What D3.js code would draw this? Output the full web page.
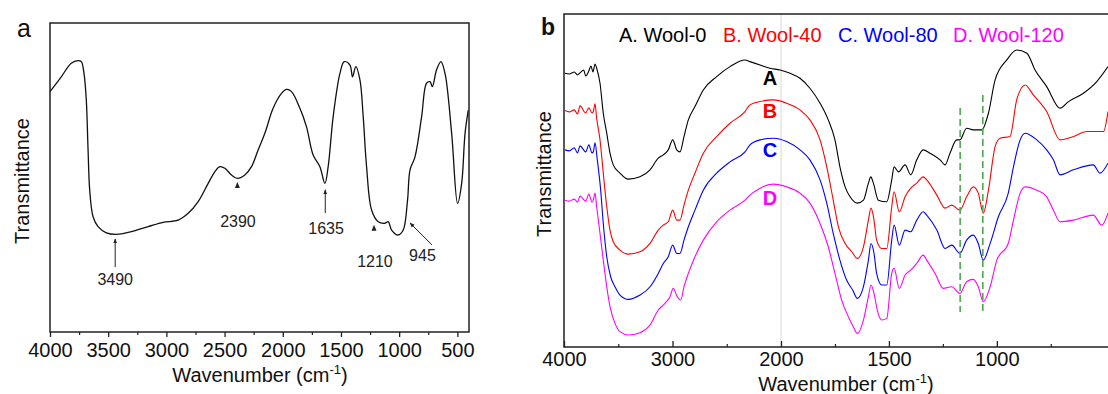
<!DOCTYPE html>
<html>
<head>
<meta charset="utf-8">
<script src="https://cdn.jsdelivr.net/npm/d3@7"></script>
<style>
  body { margin: 0; background: #fff; }
  svg text { font-family: "Liberation Sans", Arial, sans-serif; }
</style>
</head>
<body>
<div id="canvas"></div>
<script>
// ---- data: panel a (wavenumber, transmittance, arbitrary units) ----
const spectrumA = [
  [4000,77.8],[3903,82.6],[3817,87],[3759,87.8],[3731,87.5],[3708,83.7],[3688,75],[3673,59],[3659,46],
  [3630,37.3],[3587,34.1],[3516,32.1],[3430,31.6],[3301,32.5],[3157,34.1],[3028,35.5],[2899,36.2],
  [2813,38.4],[2727,42.2],[2641,48.1],[2583,51.9],[2541,53.5],[2498,53],[2441,50.8],[2390,49.7],
  [2326,50.8],[2269,53.5],[2212,58.9],[2154,64.3],[2083,72.4],[2011,77.2],[1968,78.5],[1925,77.8],
  [1853,72.4],[1796,66.4],[1739,57.3],[1681,53.5],[1638,48.1],[1610,53.5],[1567,69.7],[1509,83.7],
  [1472,87.5],[1423,86.4],[1401,82.6],[1372,85.9],[1337,81.6],[1309,69.7],[1280,53.5],[1237,39.5],
  [1180,35.7],[1122,35.2],[1094,35.7],[1065,33],[1008,31.4],[965,33],[928,42.7],[907,52.4],[864,56.7],
  [807,69.7],[765,80.5],[735,81],[715,79.4],[679,84.8],[641,87.5],[606,83.7],[549,64.3],[498,41.6],
  [463,48.1],[434,64.3],[406,71.8]
];

// peak annotations of panel a: label, arrow tail/tip (x, T), label spot
const peaksA = [
  {label: "3490", kind: "arrow", x1: 3440, t1: 21.0, x2: 3440, t2: 30.1, lx: 3440, lt: 15.2},
  {label: "2390", kind: "tri",   x1: 2390, t1: 47.6, lx: 2385, lt: 34.0},
  {label: "1635", kind: "arrow", x1: 1635, t1: 38.5, x2: 1635, t2: 46.0, lx: 1628, lt: 31.7},
  {label: "1210", kind: "tri",   x1: 1216, t1: 33.7, lx: 1208, lt: 21.0},
  {label: "945",  kind: "arrow", x1: 718,  t1: 28.2, x2: 907,  t2: 35.3, lx: 800, lt: 23.0}
];

// ---- data: panel b ----
const seriesNames = ["A. Wool-0", "B. Wool-40", "C. Wool-80", "D. Wool-120"];
const seriesTags = ["A", "B", "C", "D"];
const seriesColors = ["#000000", "#ff0000", "#0000ff", "#ff00ff"];

const wool0 = [
  [3991,82.2],[3952,82.0],[3905,82.6],[3876,81.7],[3852,82.3],[3819,83.2],[3800,81.4],[3771,82.9],
  [3752,84.4],[3733,82.6],[3714,85.0],[3699,83.7],[3668,79.2],[3638,70.2],[3606,64.2],[3576,58.2],
  [3546,54.7],[3484,52.2],[3407,50.4],[3300,51.1],[3207,53.2],[3131,56.7],[3085,57.7],[3039,59.2],
  [2998,62.2],[2961,59.2],[2931,58.6],[2894,63.2],[2854,68.2],[2793,72.2],[2716,77.2],[2593,81.2],
  [2470,84.2],[2332,86.2],[2286,85.7],[2193,84.7],[2101,83.7],[2009,83.2],[1958,82.2],[1912,80.7],
  [1866,77.7],[1819,73.2],[1781,68.2],[1750,62.2],[1727,54.1],[1703,48.1],[1680,45.1],[1646,43.2],
  [1618,44.1],[1595,49.2],[1584,51.1],[1572,49.2],[1549,44.1],[1510,43.6],[1487,50.2],[1476,54.1],
  [1456,52.6],[1425,54.7],[1399,51.7],[1371,56.2],[1341,59.2],[1310,58.2],[1263,56.2],[1240,54.7],
  [1217,58.2],[1186,62.2],[1171,62.2],[1140,65.7],[1109,65.2],[1070,65.2],[1039,70.2],[1008,80.2],
  [954,86.2],[908,89.2],[861,88.2],[823,83.2],[769,78.2],[707,71.7],[668,73.7],[599,76.2],[537,79.7],
  [485,84.2]
];
const wool40 = [
  [3991,71.0],[3952,70.6],[3905,71.2],[3876,70.0],[3852,72.4],[3800,70.3],[3771,71.8],[3742,70.3],
  [3730,70.7],[3714,73.0],[3699,68.7],[3668,62.2],[3638,52.2],[3606,42.1],[3576,35.1],[3546,31.6],
  [3484,29.1],[3407,27.9],[3300,28.6],[3207,31.1],[3131,35.1],[3085,36.6],[3039,37.6],[2998,41.1],
  [2961,38.1],[2931,38.1],[2894,42.6],[2854,47.1],[2793,52.2],[2716,58.2],[2593,63.2],[2470,67.2],
  [2332,70.7],[2286,72.7],[2193,73.7],[2071,74.2],[1974,73.2],[1912,71.2],[1866,68.2],[1819,62.2],
  [1788,54.1],[1758,44.1],[1734,36.1],[1703,31.1],[1672,28.6],[1646,26.6],[1618,30.1],[1595,38.1],
  [1583,41.7],[1569,38.1],[1557,32.1],[1533,29.6],[1510,29.6],[1487,42.1],[1476,46.6],[1452,40.6],
  [1425,45.1],[1399,47.7],[1371,49.2],[1341,51.1],[1325,50.2],[1278,45.6],[1240,41.7],[1209,42.6],
  [1171,41.1],[1140,45.1],[1109,48.1],[1086,46.2],[1063,40.2],[1039,47.1],[1008,60.2],[985,62.7],
  [939,63.2],[908,74.2],[869,78.7],[831,75.7],[769,70.7],[707,62.2],[645,63.2],[583,64.7],[506,64.7],
  [485,70.7]
];
const wool80 = [
  [3991,59.2],[3952,58.9],[3905,59.8],[3876,58.3],[3852,60.4],[3800,58.6],[3771,60.7],[3742,58.3],
  [3730,58.6],[3714,61.3],[3693,56.2],[3662,47.1],[3638,37.1],[3606,27.1],[3570,21.1],[3530,18.1],
  [3484,15.6],[3407,14.3],[3300,15.6],[3207,18.1],[3131,22.1],[3085,25.1],[3039,27.1],[2998,30.6],
  [2961,28.1],[2931,28.1],[2894,32.1],[2854,36.1],[2793,41.1],[2716,47.1],[2593,52.2],[2470,55.6],
  [2332,58.6],[2286,60.7],[2193,62.2],[2071,62.7],[1974,61.7],[1912,59.2],[1866,56.2],[1819,50.2],
  [1788,43.2],[1758,34.1],[1727,26.1],[1696,20.1],[1668,17.1],[1646,14.6],[1618,18.1],[1595,26.1],
  [1583,31.1],[1569,28.1],[1557,22.1],[1533,18.6],[1510,18.6],[1487,32.1],[1476,36.6],[1452,30.6],
  [1425,35.1],[1399,34.6],[1371,38.1],[1341,40.6],[1325,39.6],[1278,35.1],[1240,29.6],[1209,30.6],
  [1171,28.1],[1140,32.1],[1109,33.6],[1086,31.1],[1063,26.1],[1031,31.1],[993,39.1],[947,46.2],
  [923,54.1],[892,62.2],[869,64.2],[815,62.2],[769,59.2],[738,56.2],[707,51.7],[645,53.2],[553,54.7],
  [522,52.2],[485,55.2]
];
const wool120 = [
  [3991,44.1],[3952,43.8],[3905,44.4],[3876,43.5],[3852,45.3],[3800,43.8],[3771,45.9],[3742,43.5],
  [3730,44.1],[3714,46.2],[3699,42.1],[3668,34.1],[3638,26.1],[3606,18.1],[3576,12.1],[3530,7.1],
  [3484,4.6],[3407,3.6],[3300,4.3],[3207,6.6],[3131,11.1],[3069,13.1],[3023,15.1],[2993,17.6],
  [2956,15.1],[2924,14.1],[2894,18.1],[2854,22.1],[2793,27.1],[2716,32.1],[2593,37.6],[2470,41.1],
  [2332,44.1],[2286,45.6],[2193,47.7],[2071,48.9],[1974,48.1],[1912,46.2],[1866,43.2],[1819,37.1],
  [1781,30.1],[1750,22.1],[1719,14.1],[1688,9.1],[1665,6.1],[1646,4.1],[1618,8.1],[1595,15.1],
  [1583,18.6],[1569,16.1],[1554,11.1],[1533,8.1],[1510,8.6],[1487,22.1],[1476,23.6],[1452,17.6],
  [1425,21.6],[1399,23.1],[1371,25.1],[1341,27.6],[1325,26.1],[1286,22.1],[1248,17.6],[1209,18.1],
  [1171,16.1],[1140,19.6],[1109,20.3],[1086,18.1],[1063,13.6],[1031,18.1],[1000,26.1],[947,31.1],
  [923,38.1],[892,46.2],[869,48.1],[815,47.1],[769,45.1],[738,41.1],[707,37.6],[645,38.1],[553,39.6],
  [514,36.6],[485,40.2]
];
const seriesB = [wool0, wool40, wool80, wool120];
const tagT = [78.7, 68.8, 57.1, 42.6];       // baseline level of the A-D tags
const markerLines = [[1170, 71.8, 10.5], [1065, 75.7, 9.6]];  // dashed guides

const ticksA = [4000, 3500, 3000, 2500, 2000, 1500, 1000, 500];
const minorA = [3750, 3250, 2750, 2250, 1750, 1250, 750];
const ticksB = [4000, 3000, 2000, 1500, 1000];
const minorB = [3500, 2500, 1750, 1250, 750];

const svg = d3.select("#canvas").append("svg")
    .attr("width", 1108)
    .attr("height", 394);

svg.append("defs").append("marker")
    .attr("id", "arr")
    .attr("viewBox", "0 0 10 10")
    .attr("refX", 9).attr("refY", 5)
    .attr("markerWidth", 5).attr("markerHeight", 5)
    .attr("orient", "auto")
    .append("path").attr("d", "M0,1 L10,5 L0,9 z").attr("fill", "#222");

// ================= panel a =================
const xA = d3.scaleLinear().domain([4000, 400]).range([50, 469]);
const yA = d3.scaleLinear().domain([0, 100]).range([332, 23]);

const gA = svg.append("g");

gA.append("path")
    .datum(spectrumA)
    .attr("fill", "none")
    .attr("stroke", "#111")
    .attr("stroke-width", 1.3)
    .attr("d", d3.line().x(d => xA(d[0])).y(d => yA(d[1])).curve(d3.curveCatmullRom));

// frame
gA.append("rect")
    .attr("x", 50).attr("y", 23)
    .attr("width", 419).attr("height", 309)
    .attr("fill", "none").attr("stroke", "#222").attr("stroke-width", 1.5);

gA.append("g")
    .attr("transform", "translate(0,332)")
    .call(d3.axisBottom(xA).tickValues(ticksA).tickSize(5).tickFormat(d3.format("d")))
    .call(g => g.select(".domain").remove())
    .call(g => g.selectAll("line").attr("stroke", "#222").attr("stroke-width", 1.3))
    .call(g => g.selectAll("text").attr("font-size", 20).attr("fill", "#111")
        .attr("font-family", "Liberation Sans, Arial, sans-serif").attr("y", 25).attr("dy", 0));

gA.append("g")
    .attr("transform", "translate(0,332)")
    .call(d3.axisBottom(xA).tickValues(minorA).tickSize(3).tickFormat(""))
    .call(g => g.select(".domain").remove())
    .call(g => g.selectAll("line").attr("stroke", "#222").attr("stroke-width", 1.2));

const title = (g, x, y) => {
  const t = g.append("text").attr("x", x).attr("y", y).attr("text-anchor", "middle")
      .attr("font-size", 20).attr("fill", "#111");
  t.append("tspan").text("Wavenumber (cm");
  t.append("tspan").attr("font-size", 13).attr("dy", -8).text("-1");
  t.append("tspan").attr("dy", 8).text(")");
};
title(gA, 260, 382);

gA.append("text")
    .attr("transform", "translate(29,181) rotate(-90)")
    .attr("text-anchor", "middle")
    .attr("font-size", 20).attr("fill", "#111")
    .text("Transmittance");

gA.append("text").attr("x", 17).attr("y", 37)
    .attr("font-size", 25).attr("fill", "#111").text("a");

// annotations
peaksA.forEach(p => {
  if (p.kind === "arrow") {
    gA.append("line")
        .attr("x1", xA(p.x1)).attr("y1", yA(p.t1))
        .attr("x2", xA(p.x2)).attr("y2", yA(p.t2))
        .attr("stroke", "#222").attr("stroke-width", 1)
        .attr("marker-end", "url(#arr)");
  } else {
    const cx = xA(p.x1), cy = yA(p.t1);
    gA.append("path")
        .attr("d", `M${cx - 2.5},${cy + 3} L${cx + 2.5},${cy + 3} L${cx},${cy - 3} z`)
        .attr("fill", "#222");
  }
  gA.append("text")
      .attr("x", xA(p.lx)).attr("y", yA(p.lt))
      .attr("text-anchor", "middle")
      .attr("font-size", 16).attr("fill", "#222")
      .text(p.label);
});

// ================= panel b =================
const xB = d3.scaleLinear().domain([4000, 2000, 485]).range([564, 781, 1108]);
const yB = d3.scaleLinear().domain([0, 100]).range([347, 14]);

const gB = svg.append("g");

// light grid line at 2000
gB.append("line")
    .attr("x1", xB(2000)).attr("x2", xB(2000))
    .attr("y1", 14).attr("y2", 347)
    .attr("stroke", "#d8d8d8").attr("stroke-width", 1);

const lineB = d3.line().x(d => xB(d[0])).y(d => yB(d[1])).curve(d3.curveMonotoneX);

gB.selectAll("path.spec")
    .data(seriesB)
    .enter()
    .append("path")
    .attr("class", "spec")
    .attr("fill", "none")
    .attr("stroke", (d, i) => seriesColors[i])
    .attr("stroke-width", 1.1)
    .attr("d", lineB);

// dashed guides
markerLines.forEach(m => {
  gB.append("line")
      .attr("x1", xB(m[0])).attr("x2", xB(m[0]))
      .attr("y1", yB(m[1])).attr("y2", yB(m[2]))
      .attr("stroke", "#4fa84f").attr("stroke-width", 1.6)
      .attr("stroke-dasharray", "7,4");
});

// frame: left, top, bottom
gB.append("path")
    .attr("d", "M1108,14 L564,14 L564,347 L1108,347")
    .attr("fill", "none").attr("stroke", "#222").attr("stroke-width", 1.5);

gB.append("g")
    .attr("transform", "translate(0,347)")
    .call(d3.axisBottom(xB).tickValues(ticksB).tickSizeInner(-6).tickSizeOuter(0).tickFormat(d3.format("d")))
    .call(g => g.select(".domain").remove())
    .call(g => g.selectAll("line").attr("stroke", "#222").attr("stroke-width", 1.3))
    .call(g => g.selectAll("text").attr("font-size", 20).attr("fill", "#111")
        .attr("font-family", "Liberation Sans, Arial, sans-serif").attr("y", 19).attr("dy", 0));

gB.append("g")
    .attr("transform", "translate(0,347)")
    .call(d3.axisBottom(xB).tickValues(minorB).tickSizeInner(-3).tickSizeOuter(0).tickFormat(""))
    .call(g => g.select(".domain").remove())
    .call(g => g.selectAll("line").attr("stroke", "#222").attr("stroke-width", 1.2));

title(gB, 846, 391);

gB.append("text")
    .attr("transform", "translate(551,174) rotate(-90)")
    .attr("text-anchor", "middle")
    .attr("font-size", 20).attr("fill", "#111")
    .text("Transmittance");

gB.append("text").attr("x", 541).attr("y", 35)
    .attr("font-size", 23).attr("font-weight", "bold").attr("fill", "#111").text("b");

// legend
const legendX = [619, 723, 838, 953];
seriesNames.forEach((n, i) => {
  gB.append("text")
      .attr("x", legendX[i]).attr("y", 42)
      .attr("font-size", 20).attr("fill", seriesColors[i])
      .text(n);
});

// A-D tags
seriesTags.forEach((t, i) => {
  gB.append("text")
      .attr("x", 770).attr("y", yB(tagT[i]))
      .attr("text-anchor", "middle")
      .attr("font-size", 20).attr("font-weight", "bold")
      .attr("fill", seriesColors[i])
      .text(t);
});
</script>
</body>
</html>
